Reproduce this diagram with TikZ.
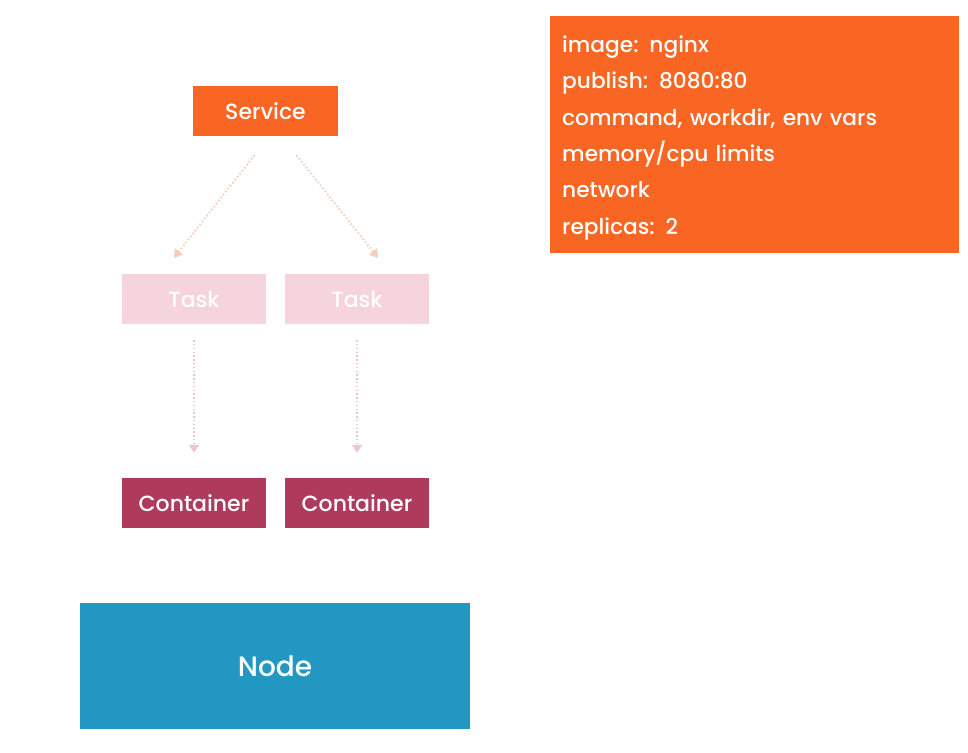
\documentclass[tikz,border=0pt]{standalone}
\usepackage{fontspec}
\setmainfont{Poppins Medium}
\usetikzlibrary{arrows.meta, positioning}

\definecolor{svcorange}{HTML}{F96624}
\definecolor{taskpink}{HTML}{F5D4DD}
\definecolor{ctrred}{HTML}{AE3B5C}
\definecolor{nodeblue}{HTML}{2297C2}
\definecolor{peach}{HTML}{F8CBB6}
\definecolor{rose}{HTML}{EEC4CF}

\begin{document}
\begin{tikzpicture}[
   x = 1pt, y = -1pt,
   box/.style = {rectangle, minimum width=144pt, minimum height=50pt,
                 inner sep=0pt, text=white, font=\fontsize{22}{24}\selectfont},
   flow/.style = {line width=2pt, dash pattern=on 1.4pt off 2.4pt,
                  -{Triangle[width=10pt, length=8pt]}}]
   \useasboundingbox (0,0) rectangle (968,752);

   \node[box, fill=svcorange, minimum width=145pt]  (srv) at (265.5,111) {Service};
   \node[box, fill=taskpink]  (t1) at (194,299) {Task};
   \node[box, fill=taskpink]  (t2) at (357,299) {Task};
   \node[box, fill=ctrred]  (c1) at (194,503) {Container};
   \node[box, fill=ctrred]  (c2) at (357,503) {Container};
   \node[box, fill=nodeblue, minimum width=390pt, minimum height=126pt,
         font=\fontsize{28}{32}\selectfont]  (nd) at (275,666) {Node};

   \node[fill=svcorange, text=white, anchor=north west, minimum width=409pt,
         minimum height=237pt, align=left, text width=385pt, inner sep=11pt,
         font=\fontsize{21.7}{36.4}\selectfont]  (info) at (550,16)
      {\rule{0pt}{23pt}image: nginx\\ publish: 8080:80\\ command, workdir, env vars\\
       memory/cpu limits\\ network\\ replicas: 2};

   \draw[flow, peach] ([xshift=-11pt, yshift=-19pt]srv.south) -- ([xshift=-20pt, yshift=16pt]t1.north);
   \draw[flow, peach] ([xshift=31pt, yshift=-19pt]srv.south) -- ([xshift=21pt, yshift=16pt]t2.north);

   \draw[flow, rose, shorten <=16pt, shorten >=25pt] (t1) -- (c1);
   \draw[flow, rose, shorten <=16pt, shorten >=25pt] (t2) -- (c2);
\end{tikzpicture}
\end{document}
